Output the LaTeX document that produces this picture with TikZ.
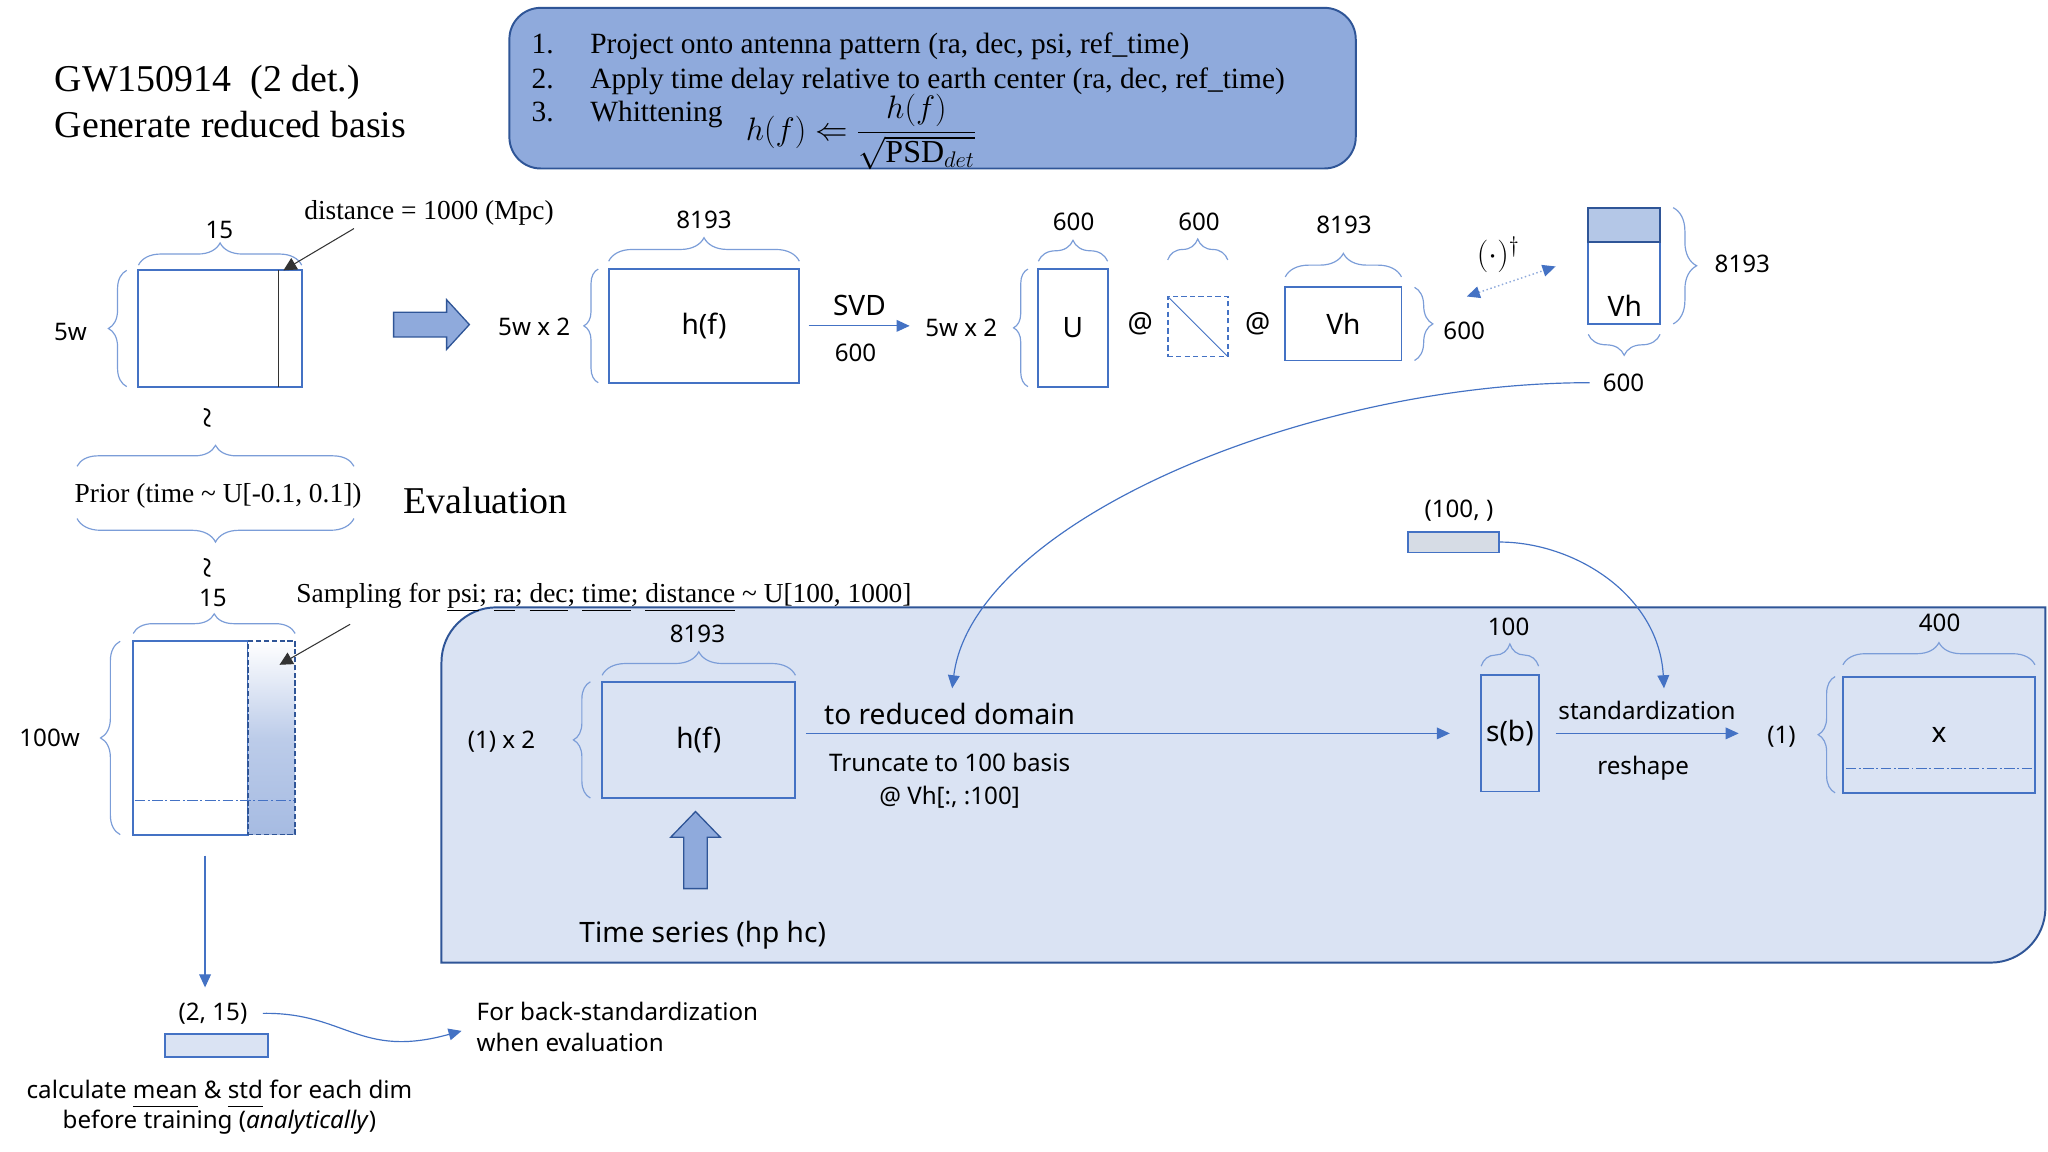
\documentclass[tikz,border=0pt]{standalone}
\usepackage{fontspec}
\setmainfont{Liberation Serif}
\newfontfamily\ssf{Noto Sans}
\usetikzlibrary{arrows.meta,decorations.pathreplacing,shapes.arrows,calc}
\definecolor{bblue}{HTML}{4472C4}
\definecolor{dblue}{HTML}{2F5597}
\definecolor{lblue}{HTML}{8FAADC}
\definecolor{pblue}{HTML}{DAE3F3}
\definecolor{mblue}{HTML}{B4C7E7}
\definecolor{gblue}{HTML}{D6DCE5}
\definecolor{brcol}{HTML}{7B9DD8}
\definecolor{gradb}{HTML}{A6BBE2}
\newcommand\ulw[1]{\underline{#1\vphantom{p}}}
\begin{document}
\begin{tikzpicture}[x=1pt,y=-1pt,
  every node/.style={inner sep=0pt,outer sep=0pt},
  mat/.style={draw=bblue,line width=1.5pt},
  brc/.style={draw=brcol,line width=0.9pt,decorate},
  conn/.style={draw=bblue,line width=0.9pt,-{Triangle[length=10pt,width=9pt]}},
  blk/.style={draw=black!80,line width=0.8pt,-{Triangle[length=10pt,width=10pt]}},
  barrow/.style={single arrow,draw=dblue,fill=lblue,line width=1pt},
  lab/.style={font=\ssf\fontsize{18.5}{22}\selectfont},
  big/.style={font=\ssf\fontsize{21.5}{26}\selectfont},
  ser/.style={font=\fontsize{21}{25}\selectfont},
  wavy/.style={font=\fontsize{30}{32}\selectfont,rotate=90},
  boxt/.style={font=\fontsize{22.5}{27}\selectfont,anchor=base west},
  ttl/.style={font=\fontsize{29}{34}\selectfont,anchor=base west}]
\fill[white] (0,0) rectangle (1568,882);
\useasboundingbox (0,0) rectangle (1568,882);

% evaluation region
\draw[fill=pblue,draw=dblue,line width=1.5pt] (338,737) -- (338,507) arc[start angle=180,end angle=270,radius=42] -- (1566,465) -- (1566,695) arc[start angle=0,end angle=90,radius=42] -- cycle;

% titles
\node[ttl] (t1) at (42,70) {GW150914\ \ (2 det.)};
\node[ttl] (t2) at (42,105) {Generate reduced basis};
\node[ttl] (evl) at (309,393) {Evaluation};

% info box
\node[draw=dblue,fill=lblue,line width=1.5pt,rounded corners=24pt,minimum width=648pt,minimum height=123pt,anchor=north west] (info) at (390,6) {};
\node[boxt] (i1n) at (407,41) {1.};
\node[boxt] (i1) at (452,41) {Project onto antenna pattern (ra, dec, psi, ref\_time)};
\node[boxt] (i2n) at (407,68) {2.};
\node[boxt] (i2) at (452,68) {Apply time delay relative to earth center (ra, dec, ref\_time)};
\node[boxt] (i3n) at (407,93) {3.};
\node[boxt] (i3) at (452,93) {Whittening};
\node[anchor=west,font=\fontsize{24.5}{28}\selectfont] (frm) at (571,101) {$h(f)\Leftarrow{\displaystyle\frac{h(f)}{\sqrt{\mathrm{PSD}_{det}}}}$};

% first matrix
\node[mat,fill=white,minimum width=125pt,minimum height=89pt] (m1) at (168.5,251.5) {};
\draw[black!80,line width=0.7pt] ([xshift=-18pt]m1.north east) -- ([xshift=-18pt]m1.south east);
\draw[brc,decoration={brace,amplitude=17pt,raise=4pt}] (m1.north west) -- (m1.north east);
\draw[brc,decoration={brace,amplitude=14pt,raise=9pt}] (m1.south west) -- (m1.north west);
\node[lab] (m1w) at (168,176) {15};
\node[lab] (m1h) at (54,254) {5w};
\node[ser,anchor=base west] (dist) at (233,168) {distance = 1000 (Mpc)};
\coordinate (distS) at (271,175);
\coordinate (distE) at ([xshift=-14pt]m1.north east);
\draw[blk] (distS) -- (distE);

% block arrow
\node[barrow,minimum height=58pt,minimum width=37pt,single arrow head extend=9.5pt,single arrow tip angle=95] (barr1) at (326,248.5) {\rule{0pt}{18pt}};

% h(f) top
\node[lab] (s1) at (409,250) {5w x 2};
\node[mat,big,minimum width=146pt,minimum height=87pt] (h1) at (539,249.5) {h(f)};
\draw[brc,decoration={brace,amplitude=18pt,raise=6pt}] (h1.north west) -- (h1.north east);
\draw[brc,decoration={brace,amplitude=11pt,raise=8pt}] (h1.south west) -- (h1.north west);
\node[lab] (h1w) at (539,168) {8193};
\node[lab] (s2) at (736,251) {5w x 2};
\draw[conn,shorten <=7pt,shorten >=12pt] (h1.east) -- (h1.east -| s2.west);
\node[big] (svd) at (658,234) {SVD};
\node[lab] (svdn) at (655,270) {600};

% U
\node[mat,big,minimum width=53pt,minimum height=90pt] (U) at (821.5,251) {U};
\draw[brc,decoration={brace,amplitude=16pt,raise=6pt}] (U.north west) -- (U.north east);
\draw[brc,decoration={brace,amplitude=11pt,raise=8pt}] (U.south west) -- (U.north west);
\node[lab] (Uw) at (822,170) {600};
\node[big] (at1) at (873,248) {@};
% diagonal
\node[draw=bblue,line width=1.3pt,dash pattern=on 4pt off 2.5pt,minimum width=46pt,minimum height=46pt] (D) at (917,250) {};
\draw[bblue,line width=0.7pt] (D.north west) -- (D.south east);
\draw[brc,decoration={brace,amplitude=16pt,raise=28pt}] (D.north west) -- (D.north east);
\node[lab] (Dw) at (918,170) {600};
\node[big] (at2) at (963,248) {@};
% Vh
\node[mat,big,minimum width=89pt,minimum height=56pt] (Vh) at (1028.5,248) {\raisebox{-7pt}{Vh}};
\draw[brc,decoration={brace,amplitude=18pt,raise=8pt}] (Vh.north west) -- (Vh.north east);
\draw[brc,decoration={brace,amplitude=14pt,raise=10pt}] (Vh.north east) -- (Vh.south east);
\node[lab] (Vhw) at (1029,172) {8193};
\node[lab] (Vhh) at (1121,253) {600};
% dagger
\coordinate (dA) at (1123,227);
\coordinate (dB) at (1191,204);
\draw[draw=lblue,line width=1.1pt,dotted,{Triangle[length=10pt,width=9pt,color=bblue]}-{Triangle[length=10pt,width=9pt,color=bblue]}] (dA) -- (dB);
\node[font=\fontsize{23}{27}\selectfont] (dag) at (1147,195) {$(\cdot)^{\dagger}$};
% tall Vh
\node[mat,fill=white,minimum width=55pt,minimum height=89pt] (vt) at (1243.5,203.5) {};
\draw[draw=dblue,fill=mblue,line width=1.5pt] (vt.north west) rectangle ($(vt.north east)+(0,26)$);
\node[big] (vtT) at (1244,234) {Vh};
\draw[brc,decoration={brace,amplitude=18pt,raise=10pt}] (vt.north east) -- (vt.south east);
\draw[brc,decoration={brace,amplitude=16pt,raise=8pt}] (vt.south east) -- (vt.south west);
\node[lab] (vth) at (1334,202) {8193};
\node[lab] (vtw) at (1243,293) {600};

% left prior
\node[wavy] (wr1) at (163,320) {\textasciitilde};
\coordinate (prTL) at (59,357);
\coordinate (prTR) at (271,357);
\coordinate (prBL) at (59,397);
\coordinate (prBR) at (271,397);
\draw[brc,decoration={brace,amplitude=16pt}] (prTL) -- (prTR);
\draw[brc,decoration={brace,amplitude=18pt}] (prBR) -- (prBL);
\node[ser,anchor=base] (prior) at (167,385) {Prior (time \textasciitilde\ U[-0.1, 0.1])};
\node[wavy] (wr2) at (163,435) {\textasciitilde};

% second matrix
\node[mat,fill=white,minimum width=88pt,minimum height=148pt] (m2l) at (146,565) {};
\node[draw=dblue,line width=1.3pt,dash pattern=on 4pt off 2pt,top color=white,bottom color=gradb,middle color=gradb!75,minimum width=36pt,minimum height=148pt] (m2r) at (208,565) {};
\draw[bblue,line width=0.7pt,dash pattern=on 8pt off 2pt on 1.5pt off 2pt] ($(m2l.south west)+(1,-26)$) -- ($(m2r.south east)+(-1,-26)$);
\draw[brc,decoration={brace,amplitude=15pt,raise=6pt}] (m2l.north west) -- (m2r.north east);
\draw[brc,decoration={brace,amplitude=15pt,raise=10pt}] (m2l.south west) -- (m2l.north west);
\node[lab] (m2w) at (163,458) {15};
\node[lab] (m2h) at (38,565) {100w};
\node[ser,anchor=base west] (samp) at (227,461) {Sampling for \ulw{psi}; \ulw{ra}; \ulw{dec}; \ulw{time}; \ulw{distance} \textasciitilde\ U[100, 1000]};
\coordinate (sampS) at (268,478);
\coordinate (sampE) at (214,509);
\draw[blk] (sampS) -- (sampE);

% mean/std
\coordinate (dS) at (157,655);
\coordinate (dE) at (157,756);
\draw[conn] (dS) -- (dE);
\node[lab] (l215) at (163,776) {(2, 15)};
\node[draw=bblue,fill=pblue,line width=1.5pt,minimum width=79pt,minimum height=17pt] (r215) at (165.5,800.5) {};
\node[lab,anchor=base] (calc1) at (168,841) {calculate \ulw{mean} \& \ulw{std} for each dim};
\node[lab,anchor=base] (calc2) at (168,864) {before training (\textit{analytically})};
\node[lab,anchor=base west,align=left,font=\ssf\fontsize{18.5}{24}\selectfont] (back) at (365,805) {For back-standardization\\when evaluation};
\draw[conn,shorten <=12pt,shorten >=12pt] (l215.east) .. controls (265,775) and (275,811) .. (back.west);

% evaluation contents
\node[mat,big,minimum width=148pt,minimum height=89pt] (h2) at (535,566.5) {\raisebox{-2pt}{h(f)}};
\draw[brc,decoration={brace,amplitude=18pt,raise=5pt}] (h2.north west) -- (h2.north east);
\draw[brc,decoration={brace,amplitude=13pt,raise=9pt}] (h2.south west) -- (h2.north west);
\node[lab] (h2w) at (534,485) {8193};
\node[lab] (h2h) at (384,568) {(1) x 2};
\node[barrow,minimum height=59pt,minimum width=37pt,single arrow head extend=10pt,single arrow tip angle=88,shape border rotate=90] (barr2) at (532.5,655.5) {\rule{17pt}{0pt}};
\node[big] (tser) at (538,716) {Time series (hp hc)};

\node[mat,big,minimum width=44pt,minimum height=89pt] (sb) at (1156,561.5) {s(b)};
\draw[brc,decoration={brace,amplitude=17pt,raise=7pt}] (sb.north west) -- (sb.north east);
\node[lab] (sbw) at (1155,480) {100};
\draw[conn,shorten <=8pt,shorten >=24pt] (h2.east |- sb.west) -- (sb.west);
\node[big,anchor=base] (redT) at (727,555) {to reduced domain};
\node[lab,anchor=base] (trT) at (727,591) {Truncate to 100 basis};
\node[lab,anchor=base] (atT) at (727,616) {@ Vh[:, :100]};

\node[lab] (one) at (1364,564) {(1)};
\draw[conn,shorten <=13pt,shorten >=22pt] (sb.east) -- (sb.east -| one.west);
\node[lab,anchor=base] (stdT) at (1261,551) {standardization};
\node[lab] (reT) at (1258,588) {reshape};

\node[mat,big,minimum width=147pt,minimum height=89pt] (xb) at (1484.5,562.5) {x};
\draw[bblue,line width=0.7pt,dash pattern=on 8pt off 2pt on 1.5pt off 2pt] ($(xb.south west)+(2,-19)$) -- ($(xb.south east)+(-2,-19)$);
\draw[brc,decoration={brace,amplitude=17pt,raise=9pt}] (xb.north west) -- (xb.north east);
\draw[brc,decoration={brace,amplitude=13pt,raise=6pt}] (xb.south west) -- (xb.north west);
\node[lab] (xw) at (1485,477) {400};

% (100, )
\node[lab] (l100) at (1117,391) {(100, )};
\node[draw=bblue,fill=gblue,line width=1.5pt,minimum width=70pt,minimum height=16pt] (r100) at (1113,415) {};

% curves
\coordinate (c1e) at (729,527);
\draw[conn,shorten <=10pt] (vtw.west) .. controls (1000,293) and (745,400) .. (c1e);
\coordinate (c2e) at (1274,527);
\draw[conn] (r100.east) .. controls (1205,415) and (1270,455) .. (c2e);
\end{tikzpicture}
\end{document}
